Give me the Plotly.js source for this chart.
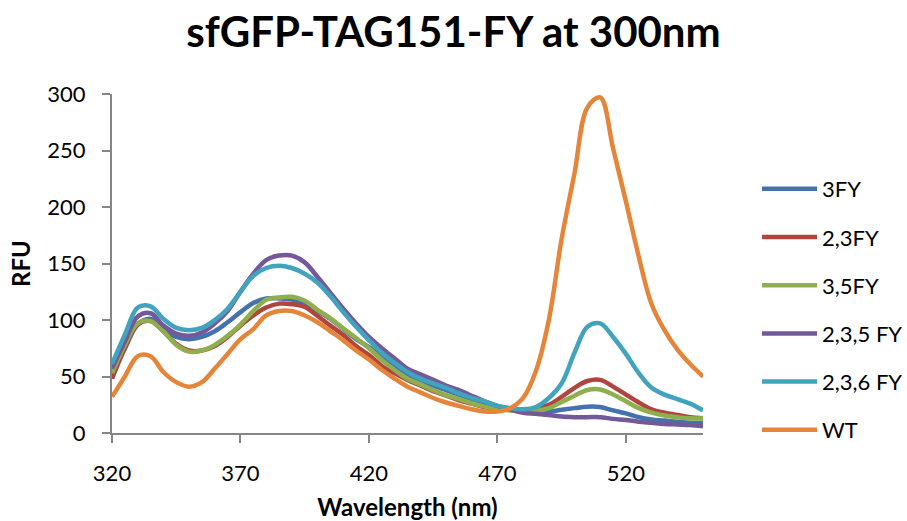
<!DOCTYPE html>
<html>
<head>
<meta charset="utf-8">
<script src="https://cdn.plot.ly/plotly-3.0.1.min.js"></script>
<style>html,body{margin:0;padding:0;background:#fff;}#chart{width:907px;height:521px;}</style>
</head>
<body>
<div id="chart"></div>
<script>
var wavelength = [320,325,330,335,340,345,350,355,360,365,370,375,380,385,390,395,400,405,410,415,420,425,430,435,440,445,450,455,460,465,470,475,480,485,490,495,500,505,510,515,520,525,530,535,540,545,550];

var fy3   = [52,75,96,101,92,85,83,85,90,98,107,115,119,119,118,114,108,101,92,83,76,68,60,52,47,42,38,34,30,27,23,21,19,19,19,20.5,22,23.3,23,20,17.4,14,12,11,10,9,8.6];
var fy23  = [48,75,96,99,90,79,73,73,77,85,95,104,111,114.5,114,111.5,103.5,95,86.7,77,69,59.3,52.8,47,42,37,33,29,26,23,21.5,20.5,20.5,21.5,25,32,40,46,47,41,34,27,21,18,16,14,13];
var fy35  = [53,78,97,99,90,78,72,73,78,86,96,108,118,120,120.5,117,109,101.5,92.6,84,75,64.6,55.8,48,43,38,33.6,30,26.3,23.3,21.5,20,19,19.5,22,27.5,33,38,38.5,34,28,22,18,15.5,14,13,13];
var fy235 = [57,81,103,106,95,88,86,89,97,108,125,141,153,157,157,151,138,124,110,97,85,75,66,57,52,47,42,38,33,28,24,21,18,17,16,14.5,14,14,14,12.5,11.5,10,9,8,7.5,7,6];
var fy236 = [61,87,111,112,101,93,91,93,100,110,125,139,146,148,146,141,133,121,107,94,82,71,62,54,48,44,40,35,31,28,24,22,21,23,31,44,71,94,97,85,70,53,40,34,30,26,20];
var wt    = [32,50,68,68,54,45,41,45,57,70,83,92,104,108,108,104,98,90,82,73,65,56,48,41,36,31,27,24,21,19,19,22,31,55,100,172,230,288,297,252,205,156,114,91,74,61,50];

var seriesNames = ["3FY","2,3FY","3,5FY","2,3,5 FY","2,3,6 FY","WT"];
var seriesValues = [fy3, fy23, fy35, fy235, fy236, wt];
var seriesColors = ["#4472AE","#B0443F","#8FAF4E","#74599A","#41A3BE","#E5853A"];
var xTicks = [320,370,420,470,520];
var yTicks = [0,50,100,150,200,250,300];

var FONT = "Lato, 'Open Sans', sans-serif";

var traces = seriesNames.map(function(n, i){
  return {
    x: wavelength, y: seriesValues[i], name: n, type: "scatter", mode: "lines",
    legendgroup: "g" + i,
    line: {color: seriesColors[i], width: 4.5, shape: "spline", smoothing: 1}
  };
});

var layout = {
  width: 907, height: 521,
  paper_bgcolor: "#fff", plot_bgcolor: "#fff",
  margin: {l: 112, r: 204, t: 94, b: 88},
  title: {text: "<b>sfGFP-TAG151-FY at 300nm</b>", font: {family: FONT, size: 42, color: "#000"},
          x: 0.5, xref: "container", y: 1 - 32/521, yref: "container", yanchor: "middle"},
  showlegend: true,
  legend: {x: 757/907, xref: "container", y: 1 - 168/521, yref: "container", yanchor: "top", xanchor: "left",
           font: {family: FONT, size: 22, color: "#000"}, itemwidth: 55, traceorder: "grouped", tracegroupgap: 16.6,
           maxheight: 0.95, bgcolor: "rgba(0,0,0,0)"},
  xaxis: {range: [320, 550], tickvals: xTicks, ticktext: xTicks.map(String), showgrid: false, zeroline: false,
          showline: true, linecolor: "#868686", linewidth: 2, ticks: "outside", ticklen: 8, tickwidth: 2, tickcolor: "#868686",
          tickfont: {family: FONT, size: 22, color: "#000"}, ticklabelstandoff: 12,
          title: {text: "<b>Wavelength (nm)</b>", font: {family: FONT, size: 24, color: "#000"}, standoff: 15}},
  yaxis: {range: [0, 300], tickvals: yTicks, ticktext: yTicks.map(String), showgrid: false, zeroline: false,
          showline: true, linecolor: "#868686", linewidth: 2, ticks: "outside", ticklen: 8, tickwidth: 2, tickcolor: "#868686",
          tickfont: {family: FONT, size: 22, color: "#000"}, ticklabelstandoff: 12,
          title: {text: "<b>RFU</b>", font: {family: FONT, size: 24, color: "#000"}, standoff: 10}}
};

Plotly.newPlot("chart", traces, layout, {staticPlot: true, displayModeBar: false});
</script>
</body>
</html>
